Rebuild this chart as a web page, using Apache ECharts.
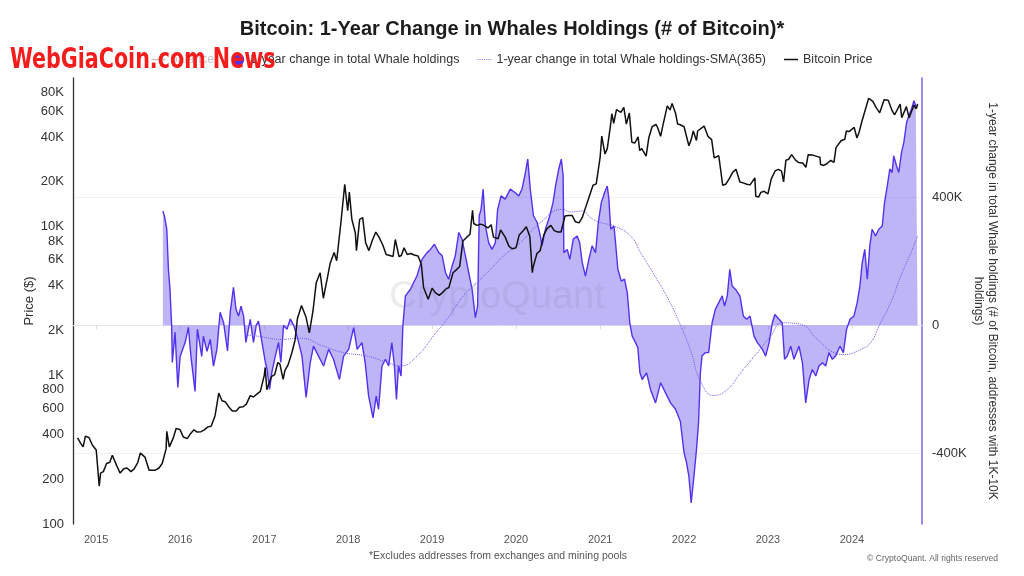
<!DOCTYPE html>
<html><head><meta charset="utf-8">
<script src="https://cdn.jsdelivr.net/npm/echarts@6/dist/echarts.min.js"></script>
<style>html,body{margin:0;padding:0;background:#fff}#c{width:1024px;height:576px}</style>
</head><body><div id="c"></div>
<script>
// ---------- DATA ----------
const xTickLabels = ['2015','2016','2017','2018','2019','2020','2021','2022','2023','2024'];
const leftTickValues = [100,200,400,600,800,1000,2000,4000,6000,8000,10000,20000,40000,60000,80000];
const rightTickValues = [-400000, 0, 400000];

const priceDates = ['2014-10-12','2014-10-25','2014-11-05','2014-11-15','2014-12-01','2014-12-15','2015-01-01','2015-01-14','2015-01-20','2015-02-01','2015-02-15','2015-03-01','2015-03-12','2015-04-01','2015-04-15','2015-05-01','2015-05-15','2015-06-01','2015-06-15','2015-07-01','2015-07-12','2015-08-01','2015-08-19','2015-09-01','2015-09-15','2015-10-01','2015-10-15','2015-11-01','2015-11-04','2015-11-15','2015-12-01','2015-12-15','2016-01-01','2016-01-15','2016-02-01','2016-02-15','2016-03-01','2016-03-15','2016-04-01','2016-04-15','2016-05-01','2016-05-15','2016-06-01','2016-06-17','2016-07-01','2016-07-15','2016-08-01','2016-08-15','2016-09-01','2016-09-15','2016-10-01','2016-10-15','2016-11-01','2016-11-15','2016-12-01','2016-12-15','2017-01-01','2017-01-05','2017-01-12','2017-02-01','2017-02-15','2017-03-01','2017-03-10','2017-03-24','2017-04-01','2017-04-15','2017-05-01','2017-05-15','2017-05-25','2017-06-01','2017-06-12','2017-07-01','2017-07-16','2017-08-01','2017-08-15','2017-09-01','2017-09-15','2017-10-01','2017-10-15','2017-11-01','2017-11-12','2017-12-01','2017-12-17','2017-12-30','2018-01-06','2018-01-17','2018-02-01','2018-02-06','2018-02-20','2018-03-05','2018-03-18','2018-04-01','2018-04-15','2018-05-01','2018-05-15','2018-06-01','2018-06-15','2018-07-01','2018-07-15','2018-07-25','2018-08-10','2018-08-20','2018-09-01','2018-09-15','2018-10-01','2018-10-15','2018-11-01','2018-11-15','2018-11-25','2018-12-15','2019-01-01','2019-01-15','2019-02-01','2019-02-15','2019-03-01','2019-03-15','2019-04-02','2019-04-15','2019-05-01','2019-05-15','2019-06-01','2019-06-15','2019-06-26','2019-07-01','2019-07-15','2019-08-01','2019-08-15','2019-09-01','2019-09-15','2019-09-25','2019-10-15','2019-10-26','2019-11-01','2019-11-15','2019-12-01','2019-12-15','2020-01-01','2020-01-15','2020-02-01','2020-02-15','2020-03-01','2020-03-12','2020-03-15','2020-04-01','2020-04-15','2020-05-01','2020-05-15','2020-06-01','2020-06-15','2020-07-01','2020-07-15','2020-08-01','2020-08-15','2020-09-01','2020-09-15','2020-10-01','2020-10-15','2020-11-01','2020-11-15','2020-12-01','2020-12-15','2021-01-01','2021-01-08','2021-01-22','2021-02-01','2021-02-15','2021-02-21','2021-03-01','2021-03-13','2021-04-01','2021-04-14','2021-04-25','2021-05-08','2021-05-19','2021-06-01','2021-06-15','2021-06-22','2021-07-01','2021-07-20','2021-08-01','2021-08-15','2021-09-01','2021-09-07','2021-09-21','2021-10-01','2021-10-20','2021-11-01','2021-11-10','2021-11-25','2021-12-04','2021-12-15','2022-01-01','2022-01-22','2022-02-01','2022-02-10','2022-02-24','2022-03-01','2022-03-29','2022-04-15','2022-05-01','2022-05-12','2022-06-01','2022-06-18','2022-07-01','2022-07-15','2022-08-01','2022-08-15','2022-09-01','2022-09-15','2022-10-01','2022-10-15','2022-11-05','2022-11-09','2022-11-21','2022-12-01','2022-12-15','2023-01-01','2023-01-15','2023-02-01','2023-02-15','2023-03-01','2023-03-10','2023-03-20','2023-04-01','2023-04-14','2023-05-01','2023-05-15','2023-06-01','2023-06-15','2023-06-25','2023-07-15','2023-08-01','2023-08-15','2023-08-18','2023-09-01','2023-09-15','2023-10-01','2023-10-15','2023-10-24','2023-11-15','2023-12-01','2023-12-08','2023-12-20','2024-01-11','2024-01-23','2024-02-01','2024-02-15','2024-03-01','2024-03-14','2024-04-01','2024-04-15','2024-05-01','2024-05-20','2024-06-07','2024-06-24','2024-07-05','2024-07-29','2024-08-05','2024-08-25','2024-09-06','2024-09-27','2024-10-06','2024-10-13'];
const priceValues = [380,350,330,390,380,340,315,180,220,225,255,260,290,245,220,235,238,225,235,260,300,282,230,230,230,238,255,320,420,330,375,440,430,385,375,405,430,415,418,430,450,455,535,760,675,665,610,575,575,610,615,640,730,715,750,780,1000,1130,800,980,1010,1220,1190,940,1080,1180,1420,1730,2400,2400,2950,2480,1930,2720,4200,4900,3300,4400,5700,6700,5900,10900,19300,12800,17100,11200,9100,6900,11200,11500,7800,6900,8000,9200,8500,7500,6500,6400,6300,8200,6300,6400,7200,6500,6600,6450,6350,5600,3900,3250,3850,3600,3450,3600,3800,3900,4900,5100,5400,8000,8500,8900,12900,10500,10200,10400,10200,9800,10300,8500,8300,9500,9200,8500,7400,7100,7200,8800,9400,10000,8600,4900,5300,6600,6900,8800,9700,10200,9400,9200,9200,11800,11900,11900,10800,10600,11500,13800,16000,19000,19400,29400,40700,30800,33500,48000,57500,49600,61200,58800,63500,49000,58200,37000,36600,40200,32500,33500,29800,39800,47000,48800,46800,40500,48000,65000,61000,67500,58000,49000,48500,47000,35000,38500,44000,38000,44000,47500,40500,38500,29000,30000,19000,19300,20800,23300,24300,20000,19700,19300,19100,21300,16000,15800,17000,17300,16600,20900,23700,24300,23600,20000,28000,28400,30500,28000,27000,26800,25100,30500,30300,29700,29300,26200,25800,26600,27900,27100,34000,37800,38700,44000,43600,46500,39500,43000,52000,62400,73000,69700,63400,58300,71400,70800,60300,56600,66800,54000,64200,54000,65800,62000,67000];

const whaleDates = ['2015-10-18','2015-10-25','2015-11-04','2015-11-11','2015-11-18','2015-11-25','2015-11-28','2015-12-10','2015-12-22','2016-01-01','2016-01-23','2016-02-06','2016-02-17','2016-03-06','2016-03-16','2016-04-04','2016-04-11','2016-04-27','2016-05-11','2016-05-25','2016-06-09','2016-06-23','2016-07-08','2016-07-25','2016-08-06','2016-08-20','2016-08-31','2016-09-11','2016-09-22','2016-10-03','2016-10-13','2016-11-01','2016-11-15','2016-11-27','2016-12-07','2016-12-22','2017-01-06','2017-01-13','2017-01-24','2017-02-03','2017-02-18','2017-03-04','2017-03-14','2017-03-26','2017-04-10','2017-04-24','2017-05-09','2017-05-23','2017-06-07','2017-06-14','2017-07-02','2017-07-20','2017-08-03','2017-08-25','2017-09-16','2017-10-08','2017-10-29','2017-11-24','2017-12-12','2018-01-03','2018-01-25','2018-02-09','2018-03-02','2018-03-16','2018-03-31','2018-04-19','2018-05-03','2018-05-13','2018-05-28','2018-06-12','2018-06-26','2018-07-10','2018-07-21','2018-07-30','2018-08-08','2018-08-19','2018-08-27','2018-09-07','2018-09-28','2018-10-27','2018-11-18','2018-12-10','2018-12-25','2019-01-11','2019-01-30','2019-02-14','2019-02-28','2019-03-14','2019-03-29','2019-04-12','2019-04-27','2019-05-11','2019-05-26','2019-06-09','2019-06-24','2019-07-08','2019-07-18','2019-07-25','2019-08-02','2019-08-11','2019-08-21','2019-09-04','2019-09-19','2019-10-03','2019-10-13','2019-10-28','2019-11-15','2019-12-07','2019-12-29','2020-01-13','2020-01-27','2020-02-11','2020-02-21','2020-03-03','2020-03-17','2020-04-02','2020-04-16','2020-04-23','2020-05-08','2020-05-27','2020-06-10','2020-06-21','2020-07-05','2020-07-16','2020-07-24','2020-07-27','2020-08-11','2020-08-22','2020-09-06','2020-09-23','2020-10-04','2020-10-15','2020-10-29','2020-11-13','2020-11-27','2020-12-12','2020-12-24','2021-01-06','2021-01-20','2021-02-01','2021-02-08','2021-02-16','2021-03-02','2021-03-09','2021-03-19','2021-04-03','2021-04-17','2021-04-29','2021-05-10','2021-05-20','2021-06-04','2021-06-14','2021-06-23','2021-07-03','2021-07-22','2021-08-08','2021-08-30','2021-09-21','2021-10-12','2021-11-03','2021-11-25','2021-12-16','2022-01-01','2022-01-12','2022-01-22','2022-02-01','2022-02-13','2022-02-24','2022-03-05','2022-03-13','2022-03-20','2022-04-04','2022-04-18','2022-05-03','2022-05-17','2022-06-01','2022-06-16','2022-06-26','2022-07-08','2022-07-19','2022-07-29','2022-08-13','2022-09-01','2022-09-16','2022-09-30','2022-10-15','2022-11-01','2022-11-16','2022-12-08','2022-12-22','2023-01-06','2023-01-20','2023-01-31','2023-02-18','2023-03-04','2023-03-14','2023-03-26','2023-04-10','2023-04-24','2023-05-16','2023-05-31','2023-06-14','2023-06-29','2023-07-13','2023-07-28','2023-08-11','2023-08-26','2023-09-09','2023-09-23','2023-10-08','2023-10-22','2023-11-10','2023-11-25','2023-12-09','2023-12-24','2024-01-10','2024-01-24','2024-02-05','2024-02-15','2024-02-26','2024-03-08','2024-03-19','2024-03-29','2024-04-13','2024-04-27','2024-05-12','2024-05-22','2024-06-03','2024-06-14','2024-06-24','2024-07-01','2024-07-13','2024-07-23','2024-08-04','2024-08-14','2024-08-26','2024-09-05','2024-09-16','2024-09-27','2024-10-05','2024-10-13'];
const whaleValues = [357000,340000,300000,175000,112000,0,-116000,-22000,-194000,-97000,-53000,-6000,-97000,-206000,-12000,-97000,-34000,-81000,-44000,-127000,-75000,41000,9000,-80000,41000,119000,50000,29000,60000,29000,-53000,19000,-53000,0,13000,-53000,-116000,-137000,-200000,-147000,-96000,-53000,-116000,0,-12000,20000,0,-33000,-75000,-96000,-225000,-116000,-65000,-96000,-127000,-75000,-106000,-169000,-96000,-75000,-7000,-75000,-54000,-117000,-221000,-289000,-221000,-262000,-127000,-106000,-127000,-54000,-127000,-231000,-127000,-158000,0,92000,112000,154000,206000,227000,237000,253000,227000,217000,165000,144000,185000,217000,290000,269000,217000,165000,112000,24000,60000,342000,362000,425000,310000,258000,237000,258000,362000,404000,394000,425000,414000,404000,425000,477000,519000,425000,342000,321000,279000,248000,300000,342000,383000,435000,488000,519000,467000,227000,237000,206000,269000,279000,258000,196000,154000,206000,248000,227000,321000,383000,414000,435000,394000,300000,310000,258000,175000,138000,144000,102000,8000,-33000,-54000,-70000,-148000,-169000,-148000,-200000,-242000,-179000,-210000,-242000,-262000,-300000,-398000,-429000,-471000,-554000,-471000,-388000,-304000,-148000,-96000,-85000,-85000,8000,50000,71000,92000,60000,92000,175000,123000,112000,92000,29000,19000,29000,-33000,-54000,-75000,-96000,-54000,8000,34000,19000,8000,-106000,-96000,-65000,-106000,-65000,-117000,-242000,-169000,-138000,-158000,-127000,-117000,-127000,-85000,-106000,-96000,-65000,-85000,-12000,19000,29000,71000,123000,196000,237000,144000,248000,300000,279000,300000,310000,383000,435000,488000,477000,529000,498000,477000,540000,571000,633000,654000,675000,701000,685000,680000];

const smaDates = ['2016-10-15','2016-12-06','2017-03-16','2017-06-08','2017-09-15','2017-12-10','2018-03-25','2018-06-20','2018-08-15','2018-10-27','2019-01-07','2019-03-07','2019-05-17','2019-07-15','2019-09-12','2019-11-08','2020-01-20','2020-04-16','2020-07-20','2020-08-25','2020-10-16','2020-11-20','2021-01-03','2021-03-02','2021-05-13','2021-06-26','2021-08-22','2021-10-20','2021-12-12','2022-01-30','2022-03-14','2022-05-11','2022-07-08','2022-09-04','2022-11-16','2023-01-13','2023-03-04','2023-05-23','2023-08-04','2023-10-15','2023-11-27','2024-02-08','2024-03-22','2024-05-05','2024-06-18','2024-08-01','2024-09-14','2024-10-13'];
const smaValues = [-30000,-34000,-44000,-40000,-65000,-85000,-96000,-116000,-127000,-96000,-33000,19000,92000,133000,175000,217000,258000,321000,362000,354000,357000,336000,321000,310000,279000,227000,160000,88000,8000,-80000,-175000,-219000,-200000,-148000,-85000,-33000,8000,3000,-44000,-85000,-91000,-75000,-54000,8000,71000,154000,227000,279000];

// ---------- CHART ----------
const ts = s => Date.parse(s + 'T00:00:00Z');
const zip = (d, v) => d.map((x, i) => [ts(x), v[i]]);
const FONT = "'Liberation Sans', Arial, sans-serif";
const chart = echarts.init(document.getElementById('c'), null, {renderer: 'canvas'});
const yearTicks = xTickLabels.map(y => ts(y + '-01-01'));
const LINE_ICON = 'path://M0,0h14v1.5h-14z';
const DOT_ICON = 'path://M0,0h1v1h-1zM2,0h1v1h-1zM4,0h1v1h-1zM6,0h1v1h-1zM8,0h1v1h-1zM10,0h1v1h-1zM12,0h1v1h-1z';

chart.setOption({
  animation: false,
  textStyle: {fontFamily: FONT},
  title: {
    text: 'Bitcoin: 1-Year Change in Whales Holdings (# of Bitcoin)*',
    left: 'center', top: 14,
    textStyle: {fontSize: 20, fontWeight: 'bold', color: '#1c1c1c', fontFamily: FONT}
  },
  legend: {
    top: 48, left: 'center', itemGap: 18, itemWidth: 14, itemHeight: 12,
    textStyle: {fontSize: 12.5, color: '#333', fontFamily: FONT},
    inactiveColor: '#c4c4c4',
    selected: {'balance': false},
    data: [
      {name: 'balance', icon: LINE_ICON},
      {name: '1-year change in total Whale holdings', icon: 'circle'},
      {name: '1-year change in total Whale holdings-SMA(365)', icon: DOT_ICON},
      {name: 'Bitcoin Price', icon: LINE_ICON}
    ]
  },
  grid: {left: 73, right: 102, top: 78, bottom: 52, containLabel: false},
  xAxis: {
    type: 'value', min: ts('2014-09-22'), max: ts('2024-11-01'),
    axisLine: {lineStyle: {color: '#e4e4ea', width: 1}},
    axisTick: {show: true, customValues: yearTicks, length: 4, lineStyle: {color: '#dcdce2'}},
    axisLabel: {customValues: yearTicks, formatter: v => String(new Date(v).getUTCFullYear()),
      color: '#555', fontSize: 11, margin: 10},
    splitLine: {show: false}
  },
  yAxis: [
    {
      type: 'log', logBase: 10, min: 100, max: 100000, position: 'left',
      name: 'Price ($)', nameLocation: 'middle', nameGap: 37, nameMoveOverlap: false,
      nameTextStyle: {fontSize: 13, color: '#333'},
      axisLine: {show: true, lineStyle: {color: '#333', width: 1.3}},
      axisTick: {show: false, customValues: leftTickValues},
      axisLabel: {customValues: leftTickValues, color: '#333', fontSize: 13, margin: 9,
        formatter: v => { v = Math.round(v); return v >= 1000 ? (v / 1000) + 'K' : String(v); }},
      splitLine: {show: false}
    },
    {
      type: 'value', min: -620000, max: 772000, position: 'right',
      name: '1-year change in total Whale holdings (# of Bitcoin, addresses with 1K-10K\nholdings)',
      nameLocation: 'middle', nameGap: 49, nameRotate: -90, nameMoveOverlap: false,
      nameTextStyle: {fontSize: 12, color: '#333', lineHeight: 14, align: 'center'},
      axisLine: {show: true, lineStyle: {color: '#7a66ee', width: 1.5}},
      axisTick: {show: false, customValues: rightTickValues},
      axisLabel: {customValues: rightTickValues, color: '#333', fontSize: 13, margin: 10,
        formatter: v => v === 0 ? '0' : (Math.round(v / 1000)) + 'K'},
      splitLine: {show: true, lineStyle: {color: '#f1f1f4', width: 1}}
    }
  ],
  series: [
    {name: 'balance', type: 'line', yAxisIndex: 1, data: [], symbol: 'none',
      lineStyle: {color: '#999'}, itemStyle: {color: '#999'}},
    {name: '1-year change in total Whale holdings', type: 'line', yAxisIndex: 1,
      data: zip(whaleDates, whaleValues), symbol: 'none',
      lineStyle: {color: '#5133ef', width: 1.4},
      itemStyle: {color: '#5133ef'},
      areaStyle: {color: 'rgba(92,70,232,0.57)'}},
    {name: '1-year change in total Whale holdings-SMA(365)', type: 'line', yAxisIndex: 1,
      data: zip(smaDates, smaValues), symbol: 'none', smooth: true,
      lineStyle: {color: '#6b58ee', width: 1, type: 'dotted'},
      itemStyle: {color: '#8a7cf0'}},
    {name: 'Bitcoin Price', type: 'line', yAxisIndex: 0,
      data: zip(priceDates, priceValues), symbol: 'none',
      lineStyle: {color: '#111', width: 1.5},
      itemStyle: {color: '#111'}}
  ],
  graphic: [
    {type: 'text', x: 497, y: 298, z: 50, silent: true,
      style: {text: 'CryptoQuant', font: "38px 'Liberation Sans', Arial, sans-serif",
        fill: 'rgba(110,110,130,0.13)', align: 'center', verticalAlign: 'middle'}},
    {type: 'text', x: 498, y: 556,
      style: {text: '*Excludes addresses from exchanges and mining pools',
        font: "10.5px 'Liberation Sans', Arial, sans-serif", fill: '#555', align: 'center', verticalAlign: 'middle'}},
    {type: 'text', x: 998, y: 559,
      style: {text: '© CryptoQuant. All rights reserved',
        font: "8.6px 'Liberation Sans', Arial, sans-serif", fill: '#666', align: 'right', verticalAlign: 'middle'}},
    {type: 'text', x: 10, y: 61, z: 100, scaleX: 0.82,
      style: {text: 'WebGiaCoin.com News',
        font: "bold 28px 'Liberation Sans Narrow', 'DejaVu Sans Condensed', sans-serif",
        fill: '#f51c1c', align: 'left', verticalAlign: 'middle'}}
  ]
});
</script></body></html>
